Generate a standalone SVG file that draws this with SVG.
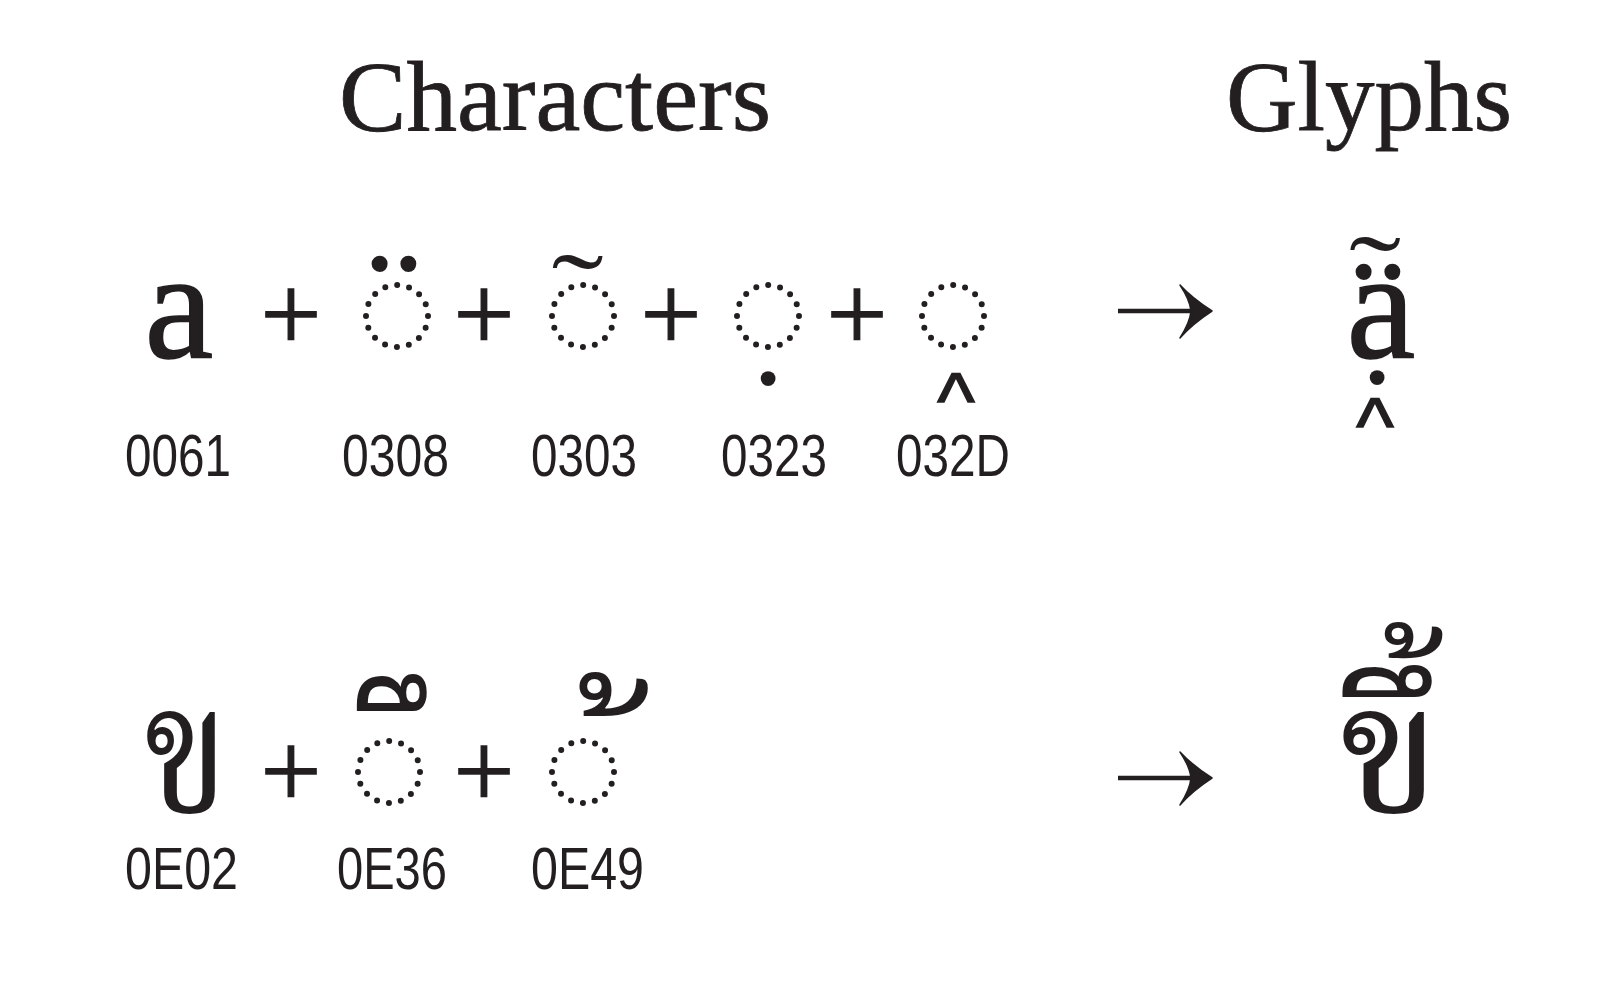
<svg xmlns="http://www.w3.org/2000/svg" width="1611" height="985" viewBox="0 0 1611 985">
<style>
.title{font-family:"Liberation Serif",serif;font-size:100px;fill:#231f20;stroke:#231f20;stroke-width:0.8}
.lat{font-family:"Liberation Serif",serif;font-size:155px;fill:#231f20;stroke:#231f20;stroke-width:1.5;text-anchor:middle}
.mark{font-family:"Liberation Serif",serif;font-size:165px;fill:#231f20;text-anchor:middle}
.dot{font-family:"Liberation Serif",serif;font-size:125px;fill:#231f20;text-anchor:middle}
.caret{font-family:"Liberation Sans",sans-serif;font-size:80px;fill:#231f20;stroke:#231f20;stroke-width:1.5;text-anchor:middle}
.plus{font-family:"Liberation Serif",serif;font-size:108px;fill:#231f20;stroke:#231f20;stroke-width:1.4;text-anchor:middle}
.thai{font-family:"Noto Serif Thai","Noto Sans Thai","Norasi","Loma","Garuda","Laksaman",serif;font-size:180px;fill:#231f20}
.tmark{font-family:"Noto Serif Thai","Noto Sans Thai","Norasi","Loma","Garuda","Laksaman",serif;font-size:160px;fill:#231f20}
.code{font-family:"Liberation Sans",sans-serif;font-size:60px;fill:#231f20}
.dc{fill:none;stroke:#231f20;stroke-width:6;stroke-linecap:round;stroke-dasharray:0 12.17}
.shaft{stroke:#231f20;stroke-width:4.5;fill:none}
.head{fill:#231f20;stroke:#231f20;stroke-width:1.5;stroke-linejoin:round}
</style>
<rect width="1611" height="985" fill="#ffffff"/>
<g id="headers">
<text class="title" x="339" y="130" textLength="432" lengthAdjust="spacingAndGlyphs">Characters</text>
<text class="title" x="1226" y="130" textLength="286" lengthAdjust="spacingAndGlyphs">Glyphs</text>
</g>
<g id="row1-a"><text class="lat" x="179" y="357">a</text><text class="code" x="125" y="476" textLength="106" lengthAdjust="spacingAndGlyphs">0061</text></g>
<g id="row1-0308"><circle class="dc" cx="397" cy="316" r="31"/><text class="mark" x="394" y="360">¨</text><text class="code" x="342" y="476" textLength="107" lengthAdjust="spacingAndGlyphs">0308</text></g>
<g id="row1-0303"><circle class="dc" cx="583" cy="316" r="31"/><text class="mark" x="580" y="363" transform="translate(582 264) scale(0.95 0.65) translate(-584.6 -264.5)">˜</text><text class="code" x="531" y="476" textLength="106" lengthAdjust="spacingAndGlyphs">0303</text></g>
<g id="row1-0323"><circle class="dc" cx="768" cy="316" r="31"/><text class="dot" x="768" y="384">.</text><text class="code" x="721" y="476" textLength="106" lengthAdjust="spacingAndGlyphs">0323</text></g>
<g id="row1-032D"><circle class="dc" cx="953" cy="316" r="31"/><text class="caret" x="956" y="428">^</text><text class="code" x="896" y="476" textLength="114" lengthAdjust="spacingAndGlyphs">032D</text></g>
<g id="row1-plus">
<text class="plus" x="291" y="350">+</text><text class="plus" x="484" y="350">+</text><text class="plus" x="671" y="350">+</text><text class="plus" x="857" y="350">+</text>
</g>
<g id="row1-glyph"><text class="lat" x="1381" y="357">a</text><text class="mark" x="1378" y="368">¨</text><text class="mark" x="1376" y="344" transform="translate(1376 247.5) scale(0.95 0.65) translate(-1377 -248)">˜</text><text class="dot" x="1377" y="383">.</text><text class="caret" x="1375" y="453">^</text></g>
<g id="row2-0E02"><text class="thai" x="181" y="812" text-anchor="middle" transform="translate(181.5 0) scale(0.84 1) translate(-175 0)">ข</text><text class="code" x="125" y="889" textLength="113" lengthAdjust="spacingAndGlyphs">0E02</text></g>
<g id="row2-0E36"><circle class="dc" cx="389" cy="772" r="31"/><text class="tmark" x="395" y="812" transform="translate(390 692) scale(0.88 1.3) translate(-387 -696)">&#160;ึ</text><text class="code" x="337" y="889" textLength="110" lengthAdjust="spacingAndGlyphs">0E36</text></g>
<g id="row2-0E49"><circle class="dc" cx="583" cy="772" r="31"/><text class="tmark" x="605" y="813" transform="translate(612 692) scale(1.2) translate(-609 -691)">&#160;้</text><text class="code" x="531" y="889" textLength="113" lengthAdjust="spacingAndGlyphs">0E49</text></g>
<g id="row2-plus"><text class="plus" x="291" y="807">+</text><text class="plus" x="484" y="807">+</text></g>
<g id="row2-glyph"><text class="thai" x="1390" y="812" text-anchor="middle">ขึ้</text></g>
<g id="connectors">
<line class="shaft" x1="1118" y1="311" x2="1204" y2="311"/>
<path class="head" d="M1212 311 Q1192 298 1180 285 Q1190 300 1191 311 Q1190 322 1180 338 Q1192 324 1212 311 Z"/>
<line class="shaft" x1="1118" y1="778" x2="1204" y2="778"/>
<path class="head" d="M1212 778 Q1192 765 1180 752 Q1190 767 1191 778 Q1190 789 1180 805 Q1192 791 1212 778 Z"/>
</g>
</svg>
